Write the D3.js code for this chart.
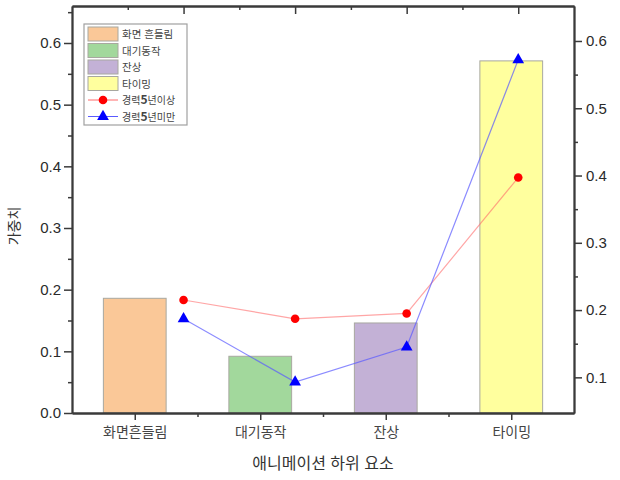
<!DOCTYPE html>
<html lang="ko">
<head>
    <meta charset="UTF-8">
    <script src="https://cdn.jsdelivr.net/npm/d3@7"></script>
    <title>가중치</title>
    <style>
        body { margin: 0; background: #fff; }
        text { font-family: "Liberation Sans", Arial, sans-serif; }
        .kr { font-family: "Noto Sans CJK KR", "Noto Sans", sans-serif; }
    </style>
</head>
<body>
<script>
    // data
    const categories = ["화면흔들림", "대기동작", "잔상", "타이밍"];
    const legendBars = ["화면 흔들림", "대기동작", "잔상", "타이밍"];
    const barValues = [0.186, 0.092, 0.146, 0.571];
    const barColors = ["#fac898", "#a2d89c", "#c3b1d6", "#ffff9e"];
    const over5 = [0.215, 0.187, 0.195, 0.397];   // 경력5년이상 (right axis)
    const under5 = [0.187, 0.093, 0.145, 0.572];  // 경력5년미만 (right axis)
    const leftTicks = [0, 0.1, 0.2, 0.3, 0.4, 0.5, 0.6];
    const rightTicks = [0.1, 0.2, 0.3, 0.4, 0.5, 0.6];

    const width = 620, height = 480;
    const L = 72, R = 574, T = 6, B = 413;
    const axisColor = "#3a3a3a";

    const svg = d3.select("body").append("svg")
        .attr("width", width)
        .attr("height", height);

    // scales
    let xBar = d3.scaleLinear().domain([0.5, 4.5]).range([L, R]);
    let xLine = d3.scaleLinear().domain([0, 4.5]).range([L, R]);
    let yL = d3.scaleLinear().domain([0, 0.66]).range([B, T]);
    let yR = d3.scaleLinear().domain([0.047, 0.652]).range([B, T]);

    // bars
    svg.selectAll("rect.bar")
        .data(barValues)
        .enter().append("rect")
        .attr("class", "bar")
        .attr("x", (d, i) => xBar(i + 1 - 0.25))
        .attr("width", xBar(1.5) - xBar(1))
        .attr("y", d => yL(d))
        .attr("height", d => B - yL(d))
        .attr("fill", (d, i) => barColors[i])
        .attr("stroke", "#a8a8a0")
        .attr("stroke-width", 1);

    // lines
    let line = d3.line()
        .x((d, i) => xLine(i + 1))
        .y(d => yR(d));

    svg.append("path").datum(over5)
        .attr("d", line)
        .attr("fill", "none")
        .attr("stroke", "#ff6a6a")
        .attr("stroke-opacity", 0.6)
        .attr("stroke-width", 1.2);
    svg.append("path").datum(under5)
        .attr("d", line)
        .attr("fill", "none")
        .attr("stroke", "#5a5aff")
        .attr("stroke-opacity", 0.7)
        .attr("stroke-width", 1.2);

    svg.selectAll("circle.p")
        .data(over5)
        .enter().append("circle")
        .attr("class", "p")
        .attr("cx", (d, i) => xLine(i + 1))
        .attr("cy", d => yR(d))
        .attr("r", 4.3)
        .attr("fill", "#ff0000");

    let tri = d3.symbol().type(d3.symbolTriangle).size(60);
    svg.selectAll("path.t")
        .data(under5)
        .enter().append("path")
        .attr("class", "t")
        .attr("d", tri)
        .attr("transform", (d, i) => "translate(" + xLine(i + 1) + "," + yR(d) + ")")
        .attr("fill", "#0000ff");

    // axes
    let leftAxis = d3.axisLeft(yL).tickValues(leftTicks).tickFormat(d3.format(".1f")).tickSize(8).tickSizeOuter(0);
    let leftMinor = d3.axisLeft(yL).tickValues([0.05, 0.15, 0.25, 0.35, 0.45, 0.55, 0.65]).tickFormat("").tickSize(4).tickSizeOuter(0);
    let rightAxis = d3.axisRight(yR).tickValues(rightTicks).tickFormat(d3.format(".1f")).tickSize(8).tickSizeOuter(0);
    let rightMinor = d3.axisRight(yR).tickValues([0.15, 0.25, 0.35, 0.45, 0.55]).tickFormat("").tickSize(4).tickSizeOuter(0);
    let bottomAxis = d3.axisBottom(xBar).tickValues([1, 2, 3, 4]).tickFormat(d => categories[d - 1]).tickSize(7).tickSizeOuter(0);
    let bottomMinor = d3.axisBottom(xBar).tickValues([1.5, 2.5, 3.5]).tickFormat("").tickSize(4).tickSizeOuter(0);
    let topAxis = d3.axisBottom(xLine).tickValues([1, 2, 3, 4]).tickFormat("").tickSize(8).tickSizeOuter(0);
    let topMinor = d3.axisBottom(xLine).tickValues([0.5, 1.5, 2.5, 3.5]).tickFormat("").tickSize(4).tickSizeOuter(0);

    function styleAxis(g) {
        g.selectAll("path.domain").attr("stroke", axisColor).attr("stroke-width", 1.8);
        g.selectAll(".tick line").attr("stroke", axisColor).attr("stroke-width", 1.5);
        g.selectAll(".tick text").attr("fill", "#2a2a2a").attr("font-size", 15);
    }

    svg.append("g").attr("transform", `translate(${L},0)`).call(leftMinor).call(styleAxis);
    svg.append("g").attr("transform", `translate(${L},0)`).call(leftAxis).call(styleAxis)
        .selectAll(".tick text").attr("x", -11);
    svg.append("g").attr("transform", `translate(${R},0)`).call(rightMinor).call(styleAxis);
    svg.append("g").attr("transform", `translate(${R},0)`).call(rightAxis).call(styleAxis)
        .selectAll(".tick text").attr("x", 12);
    svg.append("g").attr("transform", `translate(0,${B})`).call(bottomMinor).call(styleAxis);
    let bx = svg.append("g").attr("transform", `translate(0,${B})`).call(bottomAxis).call(styleAxis);
    bx.selectAll(".tick text").attr("class", "kr").attr("font-size", 14).attr("fill", "#444").attr("dy", "1.0em");
    svg.append("g").attr("transform", `translate(0,${T})`).call(topMinor).call(styleAxis);
    svg.append("g").attr("transform", `translate(0,${T})`).call(topAxis).call(styleAxis);

    // axis titles
    svg.append("text")
        .attr("class", "kr")
        .attr("transform", "translate(19,226) rotate(-90)")
        .attr("text-anchor", "middle")
        .attr("font-size", 14)
        .attr("fill", "#333")
        .text("가중치");
    svg.append("text")
        .attr("class", "kr")
        .attr("x", 323).attr("y", 469)
        .attr("text-anchor", "middle")
        .attr("font-size", 16)
        .attr("fill", "#333")
        .text("애니메이션 하위 요소");

    // legend
    let lg = svg.append("g").attr("transform", "translate(84,24)");
    lg.append("rect")
        .attr("width", 103).attr("height", 101)
        .attr("fill", "#fff")
        .attr("stroke", "#a0a0a0")
        .attr("stroke-width", 1.2);
    let rowH = 16.5;
    legendBars.forEach((name, i) => {
        let cy = 10 + i * rowH;
        lg.append("rect")
            .attr("x", 4).attr("y", cy - 7)
            .attr("width", 30).attr("height", 14)
            .attr("fill", barColors[i])
            .attr("stroke", "#a8a8a0");
        lg.append("text")
            .attr("class", "kr")
            .attr("x", 38).attr("y", cy + 4)
            .attr("font-size", 10.5).attr("fill", "#444")
            .text(name);
    });
    let lineItems = [["경력", "5", "년이상", "#ff6a6a", "#ff0000", "c"], ["경력", "5", "년미만", "#5a5aff", "#0000ff", "t"]];
    lineItems.forEach((it, j) => {
        let cy = 10 + (4 + j) * rowH;
        lg.append("line")
            .attr("x1", 4).attr("x2", 34).attr("y1", cy).attr("y2", cy)
            .attr("stroke", it[3]).attr("stroke-width", 1);
        if (it[5] === "c") {
            lg.append("circle").attr("cx", 19).attr("cy", cy).attr("r", 4.3).attr("fill", it[4]);
        } else {
            lg.append("path").attr("d", tri).attr("transform", `translate(19,${cy})`).attr("fill", it[4]);
        }
        let t = lg.append("text")
            .attr("class", "kr")
            .attr("x", 38).attr("y", cy + 4)
            .attr("font-size", 10).attr("fill", "#444");
        t.append("tspan").text(it[0]);
        t.append("tspan").attr("font-weight", "bold").attr("font-size", 12).text(it[1]);
        t.append("tspan").text(it[2]);
    });
</script>
</body>
</html>
